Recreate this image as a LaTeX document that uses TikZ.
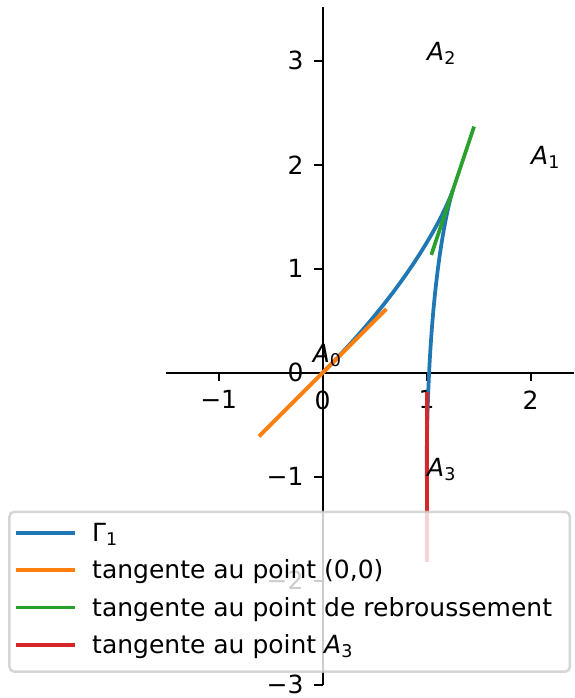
\documentclass[tikz,border=0pt]{standalone}
\usepackage{fontspec}
\setmainfont{DejaVu Sans}
\newcommand{\mysub}[1]{\raisebox{-0.17em}{\fontsize{7}{7}\selectfont #1}}
\newcommand{\Alab}[1]{{\itshape A}\mysub{#1}}
\definecolor{mplblue}{HTML}{1F77B4}
\definecolor{mplorange}{HTML}{FF7F0E}
\definecolor{mplgreen}{HTML}{2CA02C}
\definecolor{mplred}{HTML}{D62728}
\tikzset{
  spine/.style={line width=0.8pt, black},
  tickmark/.style={line width=0.8pt, black},
  xlab/.style={anchor=north, inner sep=0pt, font=\fontsize{10}{12}\selectfont},
  ylab/.style={anchor=east, inner sep=0pt, font=\fontsize{10}{12}\selectfont},
  curve/.style={line width=1.5pt, line cap=rect},
  ptlab/.style={anchor=base west, inner sep=0pt, font=\fontsize{10}{12}\selectfont},
  legbox/.style={draw=black!20, draw opacity=0.8, fill=white, fill opacity=0.8, line width=1pt, rounded corners=2pt},
  legline/.style={line width=1.5pt, line cap=rect},
  legtext/.style={anchor=base west, inner sep=0pt, font=\fontsize{10}{12}\selectfont},
}
\begin{document}
\begin{tikzpicture}[x=41.6pt, y=41.6pt]
\useasboundingbox (-3.103,-3.128) rectangle (2.426,3.584);
% axes
\coordinate (xl) at (-1.507,0);
\coordinate (xr) at (2.419,0);
\coordinate (yb) at (0,-3);
\coordinate (yt) at (0,3.513);
\draw[spine] (xl) -- (xr);
\draw[spine] (yb) -- (yt);
% x ticks
\foreach \v/\t in {-1/−1,0/0,1/1,2/2}{
  \coordinate (xt\v) at (\v,0);
  \draw[tickmark] (xt\v) -- ++(0,-3.5pt);
  \node[xlab] (xtl\v) at ([yshift=-7pt]xt\v) {\t};
}
% y ticks
\foreach \v/\t in {-3/−3,-2/−2,-1/−1,0/0,1/1,2/2,3/3}{
  \coordinate (yt\v) at (0,\v);
  \draw[tickmark] (yt\v) -- ++(-3.5pt,0);
  \node[ylab] (ytl\v) at ([xshift=-7.5pt]yt\v) {\t};
}
% control points
\coordinate (A0) at (0,0);
\coordinate (A1) at (2,2);
\coordinate (A2) at (1,3);
\coordinate (A3) at (1,-1);
% tangent end points
\coordinate (o1) at (-0.6,-0.6);
\coordinate (o2) at (0.6,0.6);
\coordinate (g1) at (1.05,1.15);
\coordinate (g2) at (1.45,2.35);
\coordinate (r1) at (1,-1.8);
\coordinate (r2) at (1,-0.2);
% curves
\draw[curve, mplblue] (A0) .. controls (A1) and (A2) .. (A3);
\draw[curve, mplorange] (o1) -- (o2);
\draw[curve, mplgreen] (g1) -- (g2);
\draw[curve, mplred] (r1) -- (r2);
% point labels
\node[ptlab] (lA0) at (-0.1,0.1) {\Alab{0}};
\node[ptlab] (lA1) at (A1) {\Alab{1}};
\node[ptlab] (lA2) at (A2) {\Alab{2}};
\node[ptlab] (lA3) at (A3) {\Alab{3}};
% legend
\draw[legbox] (-3.013,-2.875) rectangle (2.378,-1.337);
\foreach \i/\c in {1/mplblue,2/mplorange,3/mplgreen,4/mplred}{
  \coordinate (la\i) at (-2.927,{-1.538-0.36*(\i-1)});
  \coordinate (lb\i) at (-2.404,{-1.538-0.36*(\i-1)});
  \draw[legline, \c] (la\i) -- (lb\i);
}
\node[legtext] (t1) at (-2.221,{-1.538-0.082}) {Γ\mysub{1}};
\node[legtext] (t2) at (-2.221,{-1.898-0.082}) {tangente au point (0,0)};
\node[legtext] (t3) at (-2.221,{-2.258-0.082}) {tangente au point de rebroussement};
\node[legtext] (t4) at (-2.221,{-2.618-0.082}) {tangente au point \Alab{3}};
\end{tikzpicture}
\end{document}
